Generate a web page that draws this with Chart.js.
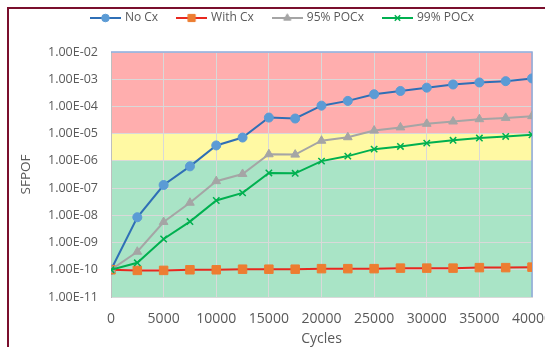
<!DOCTYPE html>
<html>
<head>
<meta charset="utf-8">
<script src="https://cdn.jsdelivr.net/npm/chart.js@4.4.1/dist/chart.umd.min.js"></script>
<style>
    html, body { margin: 0; padding: 0; background: #fff; }
    #wrap { position: relative; width: 545px; height: 347px; overflow: hidden; }
    #frame {
        position: absolute; left: 7px; top: 7px; width: 600px; height: 400px;
        border-left: 2px solid #7a0f2d; border-top: 2px solid #7a0f2d;
        pointer-events: none;
    }
    canvas { position: absolute; left: 0; top: 0; }
</style>
</head>
<body>
<div id="wrap">
    <canvas id="myChart" width="545" height="347"></canvas>
    <div id="frame"></div>
</div>
<script>
// =====================
// Data
// =====================
const cycles = [0, 2500, 5000, 7500, 10000, 12500, 15000, 17500, 20000,
    22500, 25000, 27500, 30000, 32500, 35000, 37500, 40000];

const noCx = [1.0e-10, 8.5e-9, 1.3e-7, 6.3e-7, 3.7e-6, 7.2e-6, 3.9e-5, 3.6e-5, 1.07e-4,
    1.6e-4, 2.8e-4, 3.7e-4, 4.9e-4, 6.4e-4, 7.6e-4, 8.5e-4, 1.07e-3];
const withCx = [1.0e-10, 0.95e-10, 0.95e-10, 1.0e-10, 1.0e-10, 1.05e-10, 1.05e-10, 1.05e-10, 1.1e-10,
    1.1e-10, 1.1e-10, 1.15e-10, 1.15e-10, 1.15e-10, 1.2e-10, 1.2e-10, 1.25e-10];
const poc95 = [1.0e-10, 4.6e-10, 5.7e-9, 2.9e-8, 1.8e-7, 3.3e-7, 1.75e-6, 1.7e-6, 5.5e-6,
    7.4e-6, 1.3e-5, 1.7e-5, 2.3e-5, 2.8e-5, 3.4e-5, 3.8e-5, 4.4e-5];
const poc99 = [1.0e-10, 1.8e-10, 1.35e-9, 5.9e-9, 3.5e-8, 6.7e-8, 3.6e-7, 3.5e-7, 9.8e-7,
    1.5e-6, 2.7e-6, 3.4e-6, 4.5e-6, 5.7e-6, 6.9e-6, 7.9e-6, 9.1e-6];

const yTicks = [1e-11, 1e-10, 1e-9, 1e-8, 1e-7, 1e-6, 1e-5, 1e-4, 1e-3, 1e-2];
const xTicks = [0, 5000, 10000, 15000, 20000, 25000, 30000, 35000, 40000];

// risk zones (lower, upper limits)
const zoneLimits = [[1e-11, 1e-6], [1e-6, 1e-5], [1e-5, 1e-2]];
const zoneColors = ['#a9e4c6', '#fff9a3', '#ffaeae'];

const textColor = '#595959';
const fontFamily = '"Open Sans", sans-serif';

// =====================
// Helpers
// =====================
function formatSci(v) {
    const e = Math.floor(Math.log10(v) + 1e-9);
    const m = v / Math.pow(10, e);
    const sign = e < 0 ? '-' : '+';
    return m.toFixed(2) + 'E' + sign + String(Math.abs(e)).padStart(2, '0');
}

function toPoints(values) {
    return cycles.map((c, i) => ({x: c, y: values[i]}));
}

// small canvas with line + marker, used as legend symbol
function legendSymbol(ds) {
    const c = document.createElement('canvas');
    c.width = 31;
    c.height = 12;
    const ctx = c.getContext('2d');
    ctx.strokeStyle = ds.borderColor;
    ctx.lineWidth = 2;
    ctx.beginPath();
    ctx.moveTo(0, 6);
    ctx.lineTo(31, 6);
    ctx.stroke();
    ctx.fillStyle = ds.pointBackgroundColor;
    ctx.strokeStyle = ds.pointBorderColor;
    ctx.lineWidth = ds.pointBorderWidth;
    Chart.helpers.drawPoint(ctx, {
        pointStyle: ds.pointStyle,
        radius: ds.pointRadius * 0.85,
        rotation: 0,
        borderWidth: ds.pointBorderWidth
    }, 15.5, 6);
    return c;
}

// =====================
// Plugin: coloured zones behind the plot, extra room under legend
// =====================
const zonePlugin = {
    id: 'zones',
    afterInit(chart) {
        const legend = chart.legend;
        const origFit = legend.fit;
        legend.fit = function () {
            origFit.call(this);
            this.height += 18;
        };
    },
    beforeDraw(chart) {
        const {ctx, chartArea, scales} = chart;
        ctx.save();
        zoneLimits.forEach((lim, i) => {
            const yTop = scales.y.getPixelForValue(lim[1]);
            const yBot = scales.y.getPixelForValue(lim[0]);
            ctx.fillStyle = zoneColors[i];
            ctx.fillRect(chartArea.left, yTop, chartArea.right - chartArea.left, yBot - yTop);
        });
        ctx.restore();
    },
    beforeDatasetsDraw(chart) {
        const {ctx, chartArea} = chart;
        ctx.save();
        ctx.strokeStyle = '#8eaadb';
        ctx.lineWidth = 1.5;
        ctx.beginPath();
        ctx.moveTo(chartArea.left, chartArea.top);
        ctx.lineTo(chartArea.right, chartArea.top);
        ctx.lineTo(chartArea.right, chartArea.bottom);
        ctx.stroke();
        ctx.restore();
    }
};

// =====================
// Chart
// =====================
const datasets = [
    {
        label: 'No Cx',
        data: toPoints(noCx),
        borderColor: '#2f6fb6',
        pointBackgroundColor: '#5b9bd5',
        pointBorderColor: '#5b9bd5',
        pointStyle: 'circle',
        pointRadius: 4.5,
        pointBorderWidth: 1,
        order: 4
    },
    {
        label: 'With Cx',
        data: toPoints(withCx),
        borderColor: '#e8281f',
        pointBackgroundColor: '#ed7d31',
        pointBorderColor: '#ed7d31',
        pointStyle: 'rect',
        pointRadius: 6,
        pointBorderWidth: 1,
        order: 3
    },
    {
        label: '95% POCx',
        data: toPoints(poc95),
        borderColor: '#a5a5a5',
        pointBackgroundColor: '#a5a5a5',
        pointBorderColor: '#a5a5a5',
        pointStyle: 'triangle',
        pointRadius: 5,
        pointBorderWidth: 1,
        order: 2
    },
    {
        label: '99% POCx',
        data: toPoints(poc99),
        borderColor: '#00b050',
        pointBackgroundColor: '#00b050',
        pointBorderColor: '#00b050',
        pointStyle: 'crossRot',
        pointRadius: 4.5,
        pointBorderWidth: 1.5,
        order: 1
    }
];
datasets.forEach(ds => {
    ds.borderWidth = 2;
    ds.fill = false;
    ds.tension = 0;
});

const ctx = document.getElementById('myChart').getContext('2d');
const chart = new Chart(ctx, {
    type: 'line',
    data: {datasets: datasets},
    plugins: [zonePlugin],
    options: {
        responsive: false,
        animation: false,
        devicePixelRatio: 1,
        layout: {
            padding: {left: 34, right: 13, top: -8, bottom: 0}
        },
        plugins: {
            legend: {
                position: 'top',
                labels: {
                    usePointStyle: true,
                    pointStyleWidth: 27,
                    padding: 20,
                    color: textColor,
                    font: {family: fontFamily, size: 12},
                    sort: (a, b) => a.datasetIndex - b.datasetIndex,
                    generateLabels: (chart) => chart.data.datasets.map((ds, i) => ({
                        text: ds.label,
                        fontColor: textColor,
                        pointStyle: legendSymbol(ds),
                        strokeStyle: ds.borderColor,
                        fillStyle: ds.pointBackgroundColor,
                        lineWidth: 0,
                        hidden: false,
                        datasetIndex: i
                    }))
                }
            },
            tooltip: {enabled: false}
        },
        scales: {
            x: {
                type: 'linear',
                min: 0,
                max: 40000,
                afterBuildTicks: scale => {
                    scale.ticks = xTicks.map(v => ({value: v}));
                },
                afterFit: scale => {
                    scale.paddingLeft = 0;
                    scale.paddingRight = 0;
                    scale.height = 50;
                },
                grid: {color: '#d9d9d9', drawTicks: false},
                border: {color: '#d9d9d9'},
                ticks: {
                    padding: 14,
                    maxRotation: 0,
                    color: textColor,
                    font: {family: fontFamily, size: 14},
                    callback: v => String(v)
                },
                title: {
                    display: true,
                    text: 'Cycles',
                    color: textColor,
                    font: {family: fontFamily, size: 14},
                    padding: {top: 0, bottom: 0}
                }
            },
            y: {
                type: 'logarithmic',
                min: 1e-11,
                max: 1e-2,
                afterBuildTicks: scale => {
                    scale.ticks = yTicks.map(v => ({value: v}));
                },
                afterFit: scale => {
                    scale.width = 77;
                },
                grid: {color: '#d9d9d9', drawTicks: false},
                border: {color: '#bfbfbf'},
                ticks: {
                    padding: 13,
                    color: textColor,
                    font: {family: fontFamily, size: 12.5},
                    callback: v => formatSci(v)
                },
                title: {
                    display: true,
                    text: 'SFPOF',
                    color: textColor,
                    font: {family: fontFamily, size: 13.5},
                    padding: {top: -16, bottom: 0}
                }
            }
        }
    }
});
</script>
</body>
</html>
